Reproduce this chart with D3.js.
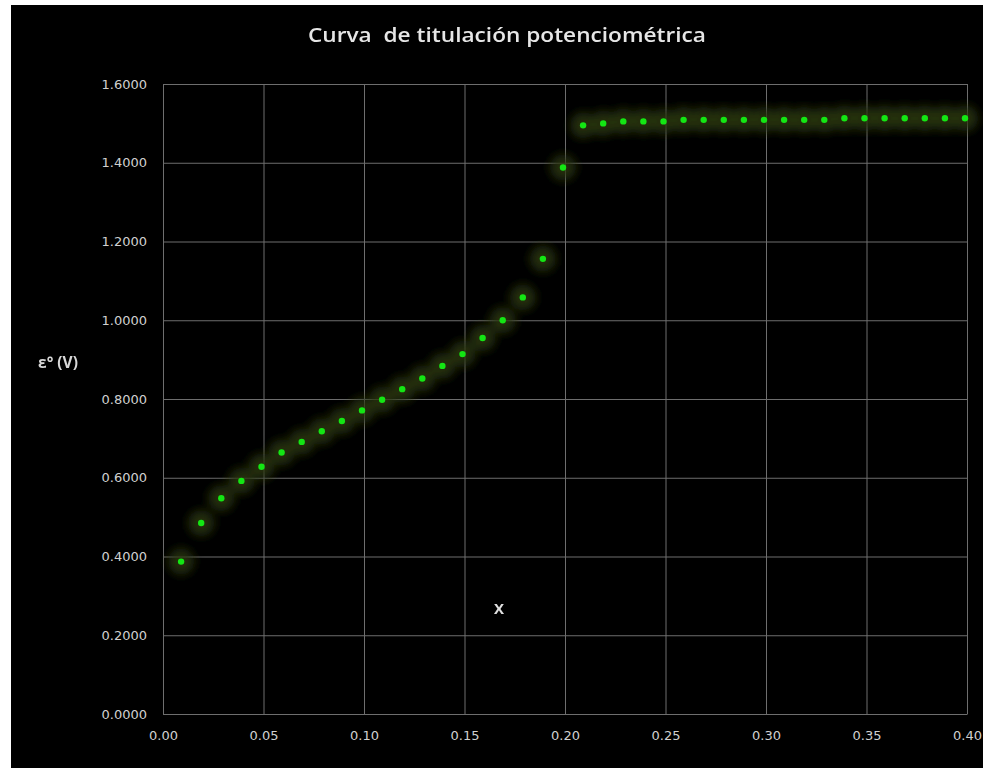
<!DOCTYPE html>
<html>
<head>
<meta charset="utf-8">
<script src="https://cdn.jsdelivr.net/npm/d3@7"></script>
<style>
  html, body { margin: 0; padding: 0; background: #ffffff; }
  svg { display: block; }
</style>
</head>
<body>
<div id="chart"></div>
<script>
// volumen (x) y potencial (V)
const volumen = [0.01, 0.02, 0.03, 0.04, 0.05, 0.06, 0.07, 0.08, 0.09, 0.10,
                 0.11, 0.12, 0.13, 0.14, 0.15, 0.16, 0.17, 0.18, 0.19, 0.20,
                 0.21, 0.22, 0.23, 0.24, 0.25, 0.26, 0.27, 0.28, 0.29, 0.30,
                 0.31, 0.32, 0.33, 0.34, 0.35, 0.36, 0.37, 0.38, 0.39, 0.40];
const potencial = [0.387, 0.485, 0.548, 0.592, 0.628, 0.664, 0.691, 0.718, 0.744, 0.771,
                   0.798, 0.825, 0.852, 0.884, 0.914, 0.955, 1.000, 1.058, 1.156, 1.388,
                   1.495, 1.500, 1.505, 1.505, 1.505, 1.509, 1.509, 1.509, 1.509, 1.509,
                   1.509, 1.509, 1.509, 1.513, 1.513, 1.513, 1.513, 1.513, 1.513, 1.513];
const xTicks = [0, 0.05, 0.10, 0.15, 0.20, 0.25, 0.30, 0.35, 0.40];
const yTicks = [0, 0.2, 0.4, 0.6, 0.8, 1.0, 1.2, 1.4, 1.6];

const data = volumen.map((v, i) => ({ x: v, y: potencial[i] }));

const W = 983, H = 768;
const margin = { top: 84, right: 16, bottom: 54, left: 163 };
const width = W - margin.left - margin.right;
const height = H - margin.top - margin.bottom;

const root = d3.select("#chart")
    .append("svg")
    .attr("width", W)
    .attr("height", H);

// fondo negro del gráfico
root.append("rect")
    .attr("x", 11)
    .attr("y", 5)
    .attr("width", W - 11)
    .attr("height", H - 5)
    .attr("fill", "#000");

const defs = root.append("defs");
defs.append("filter")
    .attr("id", "glow")
    .attr("x", "-50%").attr("y", "-50%")
    .attr("width", "200%").attr("height", "200%")
    .append("feGaussianBlur")
    .attr("stdDeviation", 5);

const svg = root.append("g")
    .attr("transform", `translate(${margin.left},${margin.top})`);

const xScale = d3.scaleLinear().domain([0, 0.40]).range([0, width]);
const yScale = d3.scaleLinear().domain([0, 1.6]).range([height, 0]);

// cuadrícula
svg.append("g")
    .attr("class", "grid")
    .call(d3.axisLeft(yScale).tickValues(yTicks).tickSize(-width).tickFormat(""))
    .call(g => g.select(".domain").remove())
    .selectAll("line")
    .attr("stroke", "#6e6e6e");

svg.append("g")
    .attr("class", "grid")
    .attr("transform", `translate(0,${height})`)
    .call(d3.axisBottom(xScale).tickValues(xTicks).tickSize(-height).tickFormat(""))
    .call(g => g.select(".domain").remove())
    .selectAll("line")
    .attr("stroke", "#6e6e6e");

// ejes
const yAxis = svg.append("g")
    .call(d3.axisLeft(yScale).tickValues(yTicks).tickSize(0).tickPadding(16)
        .tickFormat(d3.format(".4f")));
const xAxis = svg.append("g")
    .attr("transform", `translate(0,${height})`)
    .call(d3.axisBottom(xScale).tickValues(xTicks).tickSize(0).tickPadding(17)
        .tickFormat(d3.format(".2f")));

[xAxis, yAxis].forEach(a => {
    a.select(".domain").attr("stroke", "#6e6e6e");
    a.selectAll("text")
        .attr("fill", "#d0d0d0")
        .style("font-family", "'DejaVu Sans', sans-serif")
        .style("font-size", "13px");
});

// halo de los puntos
svg.append("g")
    .attr("filter", "url(#glow)")
    .selectAll("circle")
    .data(data)
    .enter()
    .append("circle")
    .attr("cx", d => xScale(d.x) - 2)
    .attr("cy", d => yScale(d.y))
    .attr("r", 13)
    .attr("fill", "#2a3810")
    .attr("opacity", 0.8);

// puntos
svg.selectAll(".pt")
    .data(data)
    .enter()
    .append("circle")
    .attr("class", "pt")
    .attr("cx", d => xScale(d.x) - 2)
    .attr("cy", d => yScale(d.y))
    .attr("r", 3.2)
    .attr("fill", "#14e614");

// títulos
root.append("text")
    .attr("x", 507)
    .attr("y", 42)
    .attr("text-anchor", "middle")
    .attr("fill", "#e6e6e6")
    .style("white-space", "pre")
    .style("font-family", "'Open Sans', sans-serif")
    .style("font-size", "20px")
    .style("font-weight", "600")
    .attr("textLength", 398)
    .attr("lengthAdjust", "spacingAndGlyphs")
    .text("Curva  de titulación potenciométrica");

root.append("text")
    .attr("x", 58)
    .attr("y", 368)
    .attr("text-anchor", "middle")
    .attr("fill", "#d8d8d8")
    .style("font-family", "'Open Sans', sans-serif")
    .style("font-size", "15.5px")
    .style("font-weight", "700")
    .text("ε° (V)");

root.append("text")
    .attr("x", 499)
    .attr("y", 614)
    .attr("text-anchor", "middle")
    .attr("fill", "#e0e0e0")
    .style("font-family", "'Open Sans', sans-serif")
    .style("font-size", "15px")
    .style("font-weight", "700")
    .text("X");
</script>
</body>
</html>
